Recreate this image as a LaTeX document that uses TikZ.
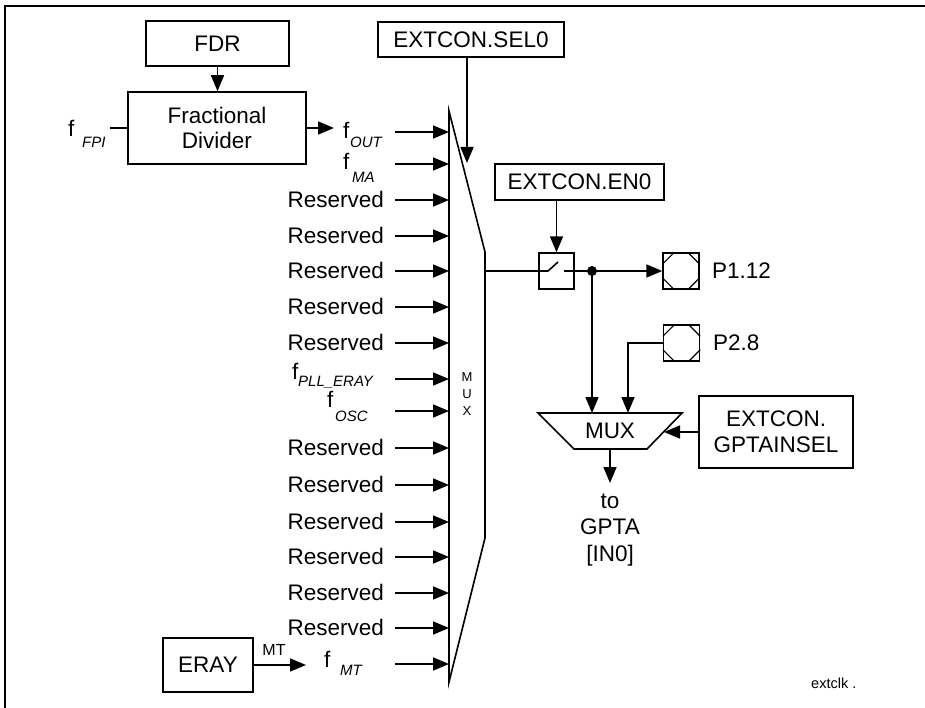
\documentclass[tikz,border=0pt]{standalone}
\usepackage{fontspec}
\setmainfont{Liberation Sans}
\usetikzlibrary{arrows.meta}
\begin{document}
\begin{tikzpicture}[x=1pt,y=-1pt,
  lw/.style={line width=1.6pt},
  blk/.style={draw,line width=1.6pt,inner sep=0pt,font=\fontsize{22.5}{25}\selectfont,align=center},
  arr/.style={line width=1.6pt,-{Triangle[length=16pt,width=13pt]}},
  lab/.style={inner sep=0pt,font=\fontsize{22.5}{25}\selectfont},
  sub/.style={inner sep=0pt,font=\fontsize{15}{16}\selectfont\itshape},
  pad/.style={draw,line width=1.4pt,minimum size=36pt,inner sep=0pt}
]
\useasboundingbox (0,0) rectangle (925,708);
% frame
\coordinate (fr1) at (5,708); \coordinate (fr2) at (5,6); \coordinate (fr3) at (925,6);
\draw[line width=2.2pt] (fr1) -- (fr2) -- (fr3);

% FDR and fractional divider
\node[blk,minimum width=143pt,minimum height=45pt] (fdr) at (217.5,43.5) {FDR};
\node[blk,minimum width=178pt,minimum height=72pt] (fd) at (217,128) {Fractional\\Divider};
\draw[arr] (fdr.south) -- (fdr.south |- fd.north);
\node[lab,anchor=base west] (ffpi) at (68,137) {f};
\node[sub,anchor=base west] (sfpi) at (82,148) {FPI};
\coordinate (fpiend) at (110,128);
\draw[lw] (fpiend) -- (fd.west);
\coordinate (fout) at (334,128);
\draw[arr] (fd.east) -- (fout);

% input labels
\node[lab,anchor=base west] (f1) at (343,139) {f};
\node[sub,anchor=base west] (s1) at (350,148) {OUT};
\node[lab,anchor=base west] (f2) at (343,170) {f};
\node[sub,anchor=base west] (s2) at (352,183) {MA};
\node[lab,anchor=base west] (f3) at (292,379) {f};
\node[sub,anchor=base west] (s3) at (298,386) {PLL\_ERAY};
\node[lab,anchor=base west] (f4) at (327,407) {f};
\node[sub,anchor=base west] (s4) at (335,421) {OSC};
\node[lab,anchor=base west] (f5) at (324,667) {f};
\node[sub,anchor=base west] (s5) at (340,675) {MT};
\foreach \r [count=\k] in {200,236,271,307,343,448,485,522,557,593,628} {
  \node[lab,anchor=base east] (res\k) at (384,\r+7.5) {Reserved};
}
\foreach \r [count=\k] in {132,164,200,236,271,307,343,379,411,448,485,522,557,593,628,664} {
  \coordinate (ia\k) at (395,\r);
  \coordinate (ib\k) at (449,\r);
  \draw[arr] (ia\k) -- (ib\k);
}

% big mux
\coordinate (m1) at (449,111); \coordinate (m2) at (485,252);
\coordinate (m3) at (485,538); \coordinate (m4) at (449,682);
\draw[lw] (m1) -- (m2) -- (m3) -- (m4) -- cycle;
\node[inner sep=0pt,font=\fontsize{13}{17}\selectfont,align=center] (muxl) at (467,394) {M\\U\\X};

% select
\node[blk,minimum width=186pt,minimum height=35pt] (sel) at (471,39.5) {EXTCON.SEL0};
\coordinate (selend) at (467,163);
\draw[arr] (selend |- sel.south) -- (selend);

% enable and switch
\node[blk,minimum width=169pt,minimum height=36pt] (en) at (579.5,182) {EXTCON.EN0};
\node[draw,line width=1.4pt,minimum width=35pt,minimum height=36pt,inner sep=0pt] (sw) at (556.5,271) {};
\draw[arr] (sw.north |- en.south) -- (sw.north);
\coordinate (mo) at (485,271);
\coordinate (swl) at (548,271);
\coordinate (swr) at (564,271);
\draw[lw] (mo) -- (swl) -- ++(10,-9);
\node[circle,fill,inner sep=0pt,minimum size=10pt] (dot) at (592,271) {};

% pads
\node[pad] (p112) at (681,271) {};
\node[pad] (p28) at (681.5,343) {};
\foreach \p in {p112,p28} {
  \draw[line width=1.2pt] (\p.north west) ++(12,0) -- ++(-12,12);
  \draw[line width=1.2pt] (\p.north east) ++(-12,0) -- ++(12,12);
  \draw[line width=1.2pt] (\p.south west) ++(12,0) -- ++(-12,-12);
  \draw[line width=1.2pt] (\p.south east) ++(-12,0) -- ++(12,-12);
}
\node[lab,anchor=west] (l112) at (712,271) {P1.12};
\node[lab,anchor=west] (l28) at (713,343) {P2.8};
\draw[arr] (swr) -- (p112.west);

% GPTA mux
\coordinate (g1) at (538,413); \coordinate (g2) at (682,413);
\coordinate (g3) at (647,449); \coordinate (g4) at (574,449);
\draw[lw] (g1) -- (g2) -- (g3) -- (g4) -- cycle;
\node[lab] (gmux) at (610,431) {MUX};
\coordinate (gin1) at (592,413);
\coordinate (gin2) at (628,413);
\coordinate (gin3) at (664,432);
\draw[arr] (dot.center) -- (gin1);
\draw[arr] (p28.west) -| (gin2);
\node[blk,minimum width=154pt,minimum height=72pt,font=\fontsize{22.5}{26}\selectfont] (gsel) at (776,432) {EXTCON.\\GPTAINSEL};
\draw[arr] (gsel.west) -- (gin3);
\coordinate (gout1) at (610,449);
\coordinate (gout2) at (610,483);
\draw[arr] (gout1) -- (gout2);
\node[lab,anchor=base] (t1) at (610,508) {to};
\node[lab,anchor=base] (t2) at (610,534) {GPTA};
\node[lab,anchor=base] (t3) at (610,561) {[IN0]};

% ERAY
\node[blk,minimum width=90pt,minimum height=54pt] (eray) at (208,665) {ERAY};
\coordinate (erend) at (306,665);
\draw[arr] (eray.east) -- (erend);
\node[inner sep=0pt,font=\fontsize{16}{18}\selectfont,anchor=base] (mtl) at (274,655) {MT};

% figure id
\node[inner sep=0pt,font=\fontsize{14.5}{16}\selectfont,anchor=base west] (ext) at (811,688) {extclk .};
\end{tikzpicture}
\end{document}
